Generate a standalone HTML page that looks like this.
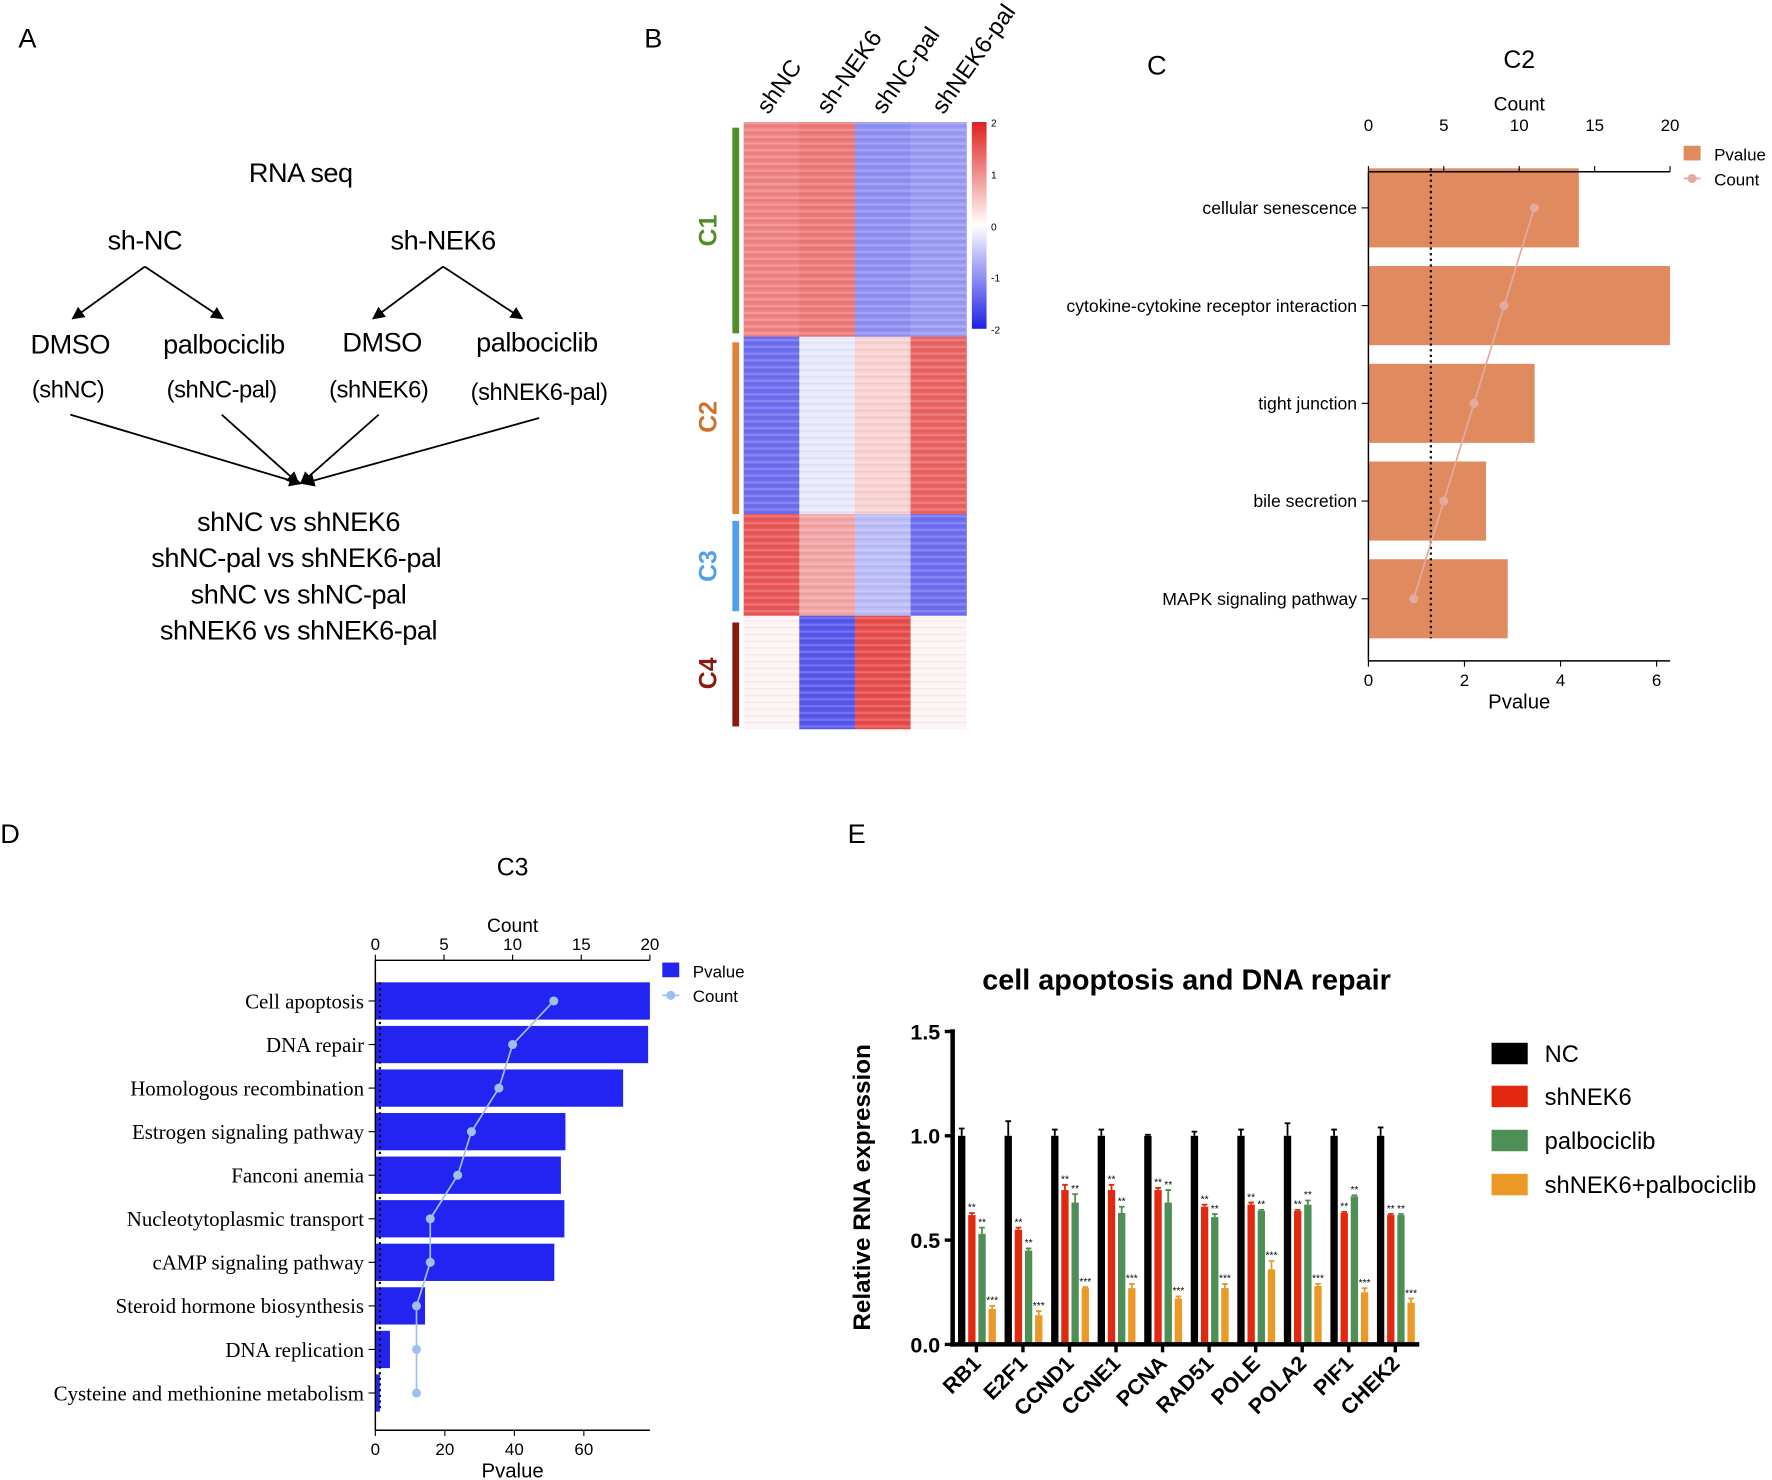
<!DOCTYPE html>
<html><head><meta charset="utf-8"><style>
html,body{margin:0;padding:0;background:#fff;}
svg{display:block;font-family:"Liberation Sans",sans-serif;}
</style></head><body>
<svg id="fig" width="1772" height="1480" viewBox="0 0 1568 1310" xmlns="http://www.w3.org/2000/svg">
<defs>
<marker id="arr" viewBox="0 0 10 10" refX="9" refY="5" markerWidth="7" markerHeight="7" orient="auto"><path d="M0,0 L10,5 L0,10 z" fill="#000"/></marker>
<linearGradient id="cbar" x1="0" y1="0" x2="0" y2="1"><stop offset="0" stop-color="#e02020"/><stop offset="0.5" stop-color="#ffffff"/><stop offset="1" stop-color="#2020e8"/></linearGradient>
<pattern id="stripes" width="197" height="6" patternUnits="userSpaceOnUse"><rect x="0" y="0" width="197" height="2" fill="#fff" opacity="0.18"/><rect x="0" y="3" width="197" height="1" fill="#000" opacity="0.05"/></pattern>
</defs>

<!-- Panel A -->
<g font-size="24" letter-spacing="-0.4">
<text x="16" y="42" font-size="24">A</text>
<text x="266" y="161" text-anchor="middle">RNA seq</text>
<text x="128" y="221" text-anchor="middle">sh-NC</text>
<text x="392" y="221" text-anchor="middle">sh-NEK6</text>
<g stroke="#000" stroke-width="1.6" fill="none">
<line x1="128" y1="236" x2="64" y2="282" marker-end="url(#arr)"/>
<line x1="128" y1="236" x2="197" y2="282" marker-end="url(#arr)"/>
<line x1="392" y1="236" x2="330" y2="282" marker-end="url(#arr)"/>
<line x1="392" y1="236" x2="462" y2="282" marker-end="url(#arr)"/>
<line x1="62" y1="367" x2="266" y2="428" marker-end="url(#arr)"/>
<line x1="196" y1="367" x2="264" y2="428" marker-end="url(#arr)"/>
<line x1="335" y1="367" x2="266" y2="428" marker-end="url(#arr)"/>
<line x1="477" y1="370" x2="268" y2="428" marker-end="url(#arr)"/>
</g>
<text x="62" y="313" text-anchor="middle">DMSO</text>
<text x="198" y="313" text-anchor="middle">palbociclib</text>
<text x="338" y="311" text-anchor="middle">DMSO</text>
<text x="475" y="311" text-anchor="middle">palbociclib</text>
<g font-size="21">
<text x="60" y="352" text-anchor="middle">(shNC)</text>
<text x="196" y="352" text-anchor="middle">(shNC-pal)</text>
<text x="335" y="352" text-anchor="middle">(shNEK6)</text>
<text x="477" y="354" text-anchor="middle">(shNEK6-pal)</text>
</g>
<text x="264" y="470" text-anchor="middle">shNC vs shNEK6</text>
<text x="262" y="502" text-anchor="middle">shNC-pal vs shNEK6-pal</text>
<text x="264" y="534" text-anchor="middle">shNC vs shNC-pal</text>
<text x="264" y="566" text-anchor="middle">shNEK6 vs shNEK6-pal</text>
</g>

<!-- Panel B -->
<g>
<text x="570" y="42" font-size="24">B</text>
<g id="heatmap"></g>
<rect x="658" y="108" width="197" height="537" fill="url(#stripes)"/>
<rect x="860" y="108" width="13" height="183" fill="url(#cbar)"/>
<g font-size="9">
<text x="877" y="112">2</text><text x="877" y="158">1</text><text x="877" y="204">0</text><text x="877" y="249">-1</text><text x="877" y="295">-2</text>
</g>
<g font-size="21">
<text transform="translate(680,102) rotate(-55)">shNC</text>
<text transform="translate(733,102) rotate(-55)">sh-NEK6</text>
<text transform="translate(782,102) rotate(-55)">shNC-pal</text>
<text transform="translate(835,102) rotate(-55)">shNEK6-pal</text>
</g>
<rect x="648" y="113" width="6" height="182" fill="#4e8f2a"/>
<rect x="648" y="303" width="6" height="152" fill="#e0823a"/>
<rect x="648" y="461" width="6" height="80" fill="#4ea0f0"/>
<rect x="648" y="551" width="6" height="92" fill="#8a1a10"/>
<g font-size="22" font-weight="bold">
<text transform="translate(634,204) rotate(-90)" text-anchor="middle" fill="#4e8f2a">C1</text>
<text transform="translate(634,369) rotate(-90)" text-anchor="middle" fill="#d0702a">C2</text>
<text transform="translate(634,501) rotate(-90)" text-anchor="middle" fill="#4ea0f0">C3</text>
<text transform="translate(634,596) rotate(-90)" text-anchor="middle" fill="#8a1a10">C4</text>
</g>
</g>

<text x="1015" y="66" font-size="24">C</text>
<g id="chartC"></g>
<text x="0" y="746" font-size="24">D</text>
<g id="chartD"></g>
<text x="750" y="746" font-size="24">E</text>
<g id="chartE"></g>
</svg>

<script>
// ---- Heatmap (block means per cluster x group, scale -2..2) ----
const hmGroups = ["shNC","sh-NEK6","shNC-pal","shNEK6-pal"];
const hmClusters = ["C1","C2","C3","C4"];
const hmC1 = [1.1, 1.2, -1.0, -0.9];
const hmC2 = [-1.3, -0.2, 0.4, 1.4];
const hmC3 = [1.5, 0.8, -0.6, -1.3];
const hmC4 = [0.1, -1.5, 1.6, 0.1];
const hmRows = [hmC1, hmC2, hmC3, hmC4];
const hmClusterSize = [190, 157, 90, 100];

// ---- Panel C data ----
const cTerms = ["cellular senescence","cytokine-cytokine receptor interaction","tight junction","bile secretion","MAPK signaling pathway"];
const cPvalue = [4.38, 6.28, 3.46, 2.45, 2.9];
const cCount = [11, 9, 7, 5, 3];
const cPTicks = [0, 2, 4, 6];
const cCTicks = [0, 5, 10, 15, 20];

// ---- Panel D data ----
const dTerms = ["Cell apoptosis","DNA repair","Homologous recombination","Estrogen signaling pathway","Fanconi anemia","Nucleotytoplasmic transport","cAMP signaling pathway","Steroid hormone biosynthesis","DNA replication","Cysteine and methionine metabolism"];
const dPvalue = [79, 78.5, 71.3, 54.7, 53.4, 54.4, 51.5, 14.3, 4.2, 1.3];
const dCount = [13, 10, 9, 7, 6, 4, 4, 3, 3, 3];
const dPTicks = [0, 20, 40, 60];
const dCTicks = [0, 5, 10, 15, 20];

// ---- Panel E data ----
const eGenes = ["RB1","E2F1","CCND1","CCNE1","PCNA","RAD51","POLE","POLA2","PIF1","CHEK2"];
const eSeries = ["NC","shNEK6","palbociclib","shNEK6+palbociclib"];
const eNC = [1,1,1,1,1,1,1,1,1,1];
const eNCerr = [0.035,0.07,0.03,0.03,0.005,0.02,0.03,0.06,0.03,0.04];
const eSh = [0.62,0.55,0.74,0.74,0.74,0.66,0.67,0.64,0.63,0.62];
const eShErr = [0.01,0.01,0.025,0.025,0.01,0.01,0.01,0.005,0.005,0.005];
const ePal = [0.53,0.45,0.68,0.63,0.68,0.61,0.64,0.67,0.71,0.62];
const ePalErr = [0.03,0.01,0.04,0.03,0.06,0.015,0.005,0.02,0.005,0.005];
const eCombo = [0.17,0.14,0.27,0.27,0.22,0.27,0.36,0.28,0.25,0.20];
const eComboErr = [0.015,0.02,0.005,0.02,0.01,0.02,0.04,0.01,0.02,0.02];
const eYTicks = [0, 0.5, 1.0, 1.5];
const eStars = ["", "**", "**", "***"];

const NS = "http://www.w3.org/2000/svg";
function mk(parent, tag, attrs, txt) {
  const e = document.createElementNS(NS, tag);
  for (const k in attrs) e.setAttribute(k, attrs[k]);
  if (txt !== undefined) e.textContent = txt;
  parent.appendChild(e);
  return e;
}
function hmColor(v) {
  const t = Math.max(-2, Math.min(2, v)) / 2;
  if (t >= 0) { const g = Math.round(255 - t * 225); return `rgb(${Math.round(255 - t*30)},${g},${g})`; }
  const a = -t; const g = Math.round(255 - a * 225); return `rgb(${g},${g},${Math.round(255 - a*25)})`;
}

// Heatmap
(function(){
  const g = document.getElementById("heatmap");
  const x0 = 658, cw = 49.25; let y = 108;
  hmRows.forEach((row, r) => {
    const h = hmClusterSize[r];
    row.forEach((v, c) => {
      const el = mk(g, "rect", {x: x0 + c*cw, y: y, width: cw + 0.5, height: h + 0.5, fill: hmColor(v)});
      
      
    });
    y += h;
  });
})();

function enrichChart(gid, cfg) {
  const g = document.getElementById(gid);
  const L = cfg.left, R = cfg.right, T = cfg.top, B = cfg.bottom;
  const px = v => L + (v / cfg.pMax) * (R - L);
  const cx = v => L + (v / 20) * (R - L);
  const n = cfg.terms.length;
  const step = (cfg.lastY - cfg.firstY) / (n - 1);
  const yc = i => cfg.firstY + i * step;
  let t = mk(g, "text", {x: (L+R)/2, y: cfg.titleY, "text-anchor": "middle", "font-size": 22}, cfg.title);
   
  cfg.pv.forEach((v, i) => {
    const r = mk(g, "rect", {x: L, y: yc(i) - cfg.barH/2, width: px(v) - L, height: cfg.barH, fill: cfg.barColor});
    
    
    const tk = mk(g, "line", {x1: L-6, x2: L, y1: yc(i), y2: yc(i), stroke: "#000", "stroke-width": 1});
     
    const lb = mk(g, "text", {x: L - 10, y: yc(i) + cfg.fs*0.35, "text-anchor": "end", "font-size": cfg.fs, "font-family": cfg.labelFont}, cfg.terms[i]);
     
  });
  const dl = mk(g, "line", {x1: px(cfg.thresh), x2: px(cfg.thresh), y1: yc(0) - cfg.barH/2, y2: yc(n-1) + cfg.barH/2, stroke: "#111", "stroke-width": 2, "stroke-dasharray": "2,3"});
   
  const pts = cfg.cnt.map((c, i) => cx(c) + "," + yc(i)).join(" ");
  const pl = mk(g, "polyline", {points: pts, fill: "none", stroke: cfg.lineColor, "stroke-width": 1.5});
   
  cfg.cnt.forEach((c, i) => {
    const p = mk(g, "circle", {cx: cx(c), cy: yc(i), r: 4, fill: cfg.lineColor});
     
  });
  let a = mk(g, "line", {x1: L, x2: L, y1: T, y2: B, stroke: "#000", "stroke-width": 1.3});
   
  a = mk(g, "line", {x1: L, x2: R, y1: T, y2: T, stroke: "#000", "stroke-width": 1.3});
   
  a = mk(g, "line", {x1: L, x2: R, y1: B, y2: B, stroke: "#000", "stroke-width": 1.3});
   
  cfg.cTicks.forEach(v => {
    const l = mk(g, "line", {x1: cx(v), x2: cx(v), y1: T, y2: T-5, stroke: "#000"});
     
    const tx = mk(g, "text", {x: cx(v), y: T - cfg.cTickOff, "text-anchor": "middle", "font-size": 15}, v);
     
  });
  cfg.pTicks.forEach(v => {
    const l = mk(g, "line", {x1: px(v), x2: px(v), y1: B, y2: B+5, stroke: "#000"});
     
    const tx = mk(g, "text", {x: px(v), y: B + 22, "text-anchor": "middle", "font-size": 15}, v);
     
  });
  t = mk(g, "text", {x: (L+R)/2, y: T - cfg.cTitleOff, "text-anchor": "middle", "font-size": 17}, "Count");
   
  t = mk(g, "text", {x: (L+R)/2, y: B + 42, "text-anchor": "middle", "font-size": 18}, "Pvalue");
   
  const lx = cfg.legX, ly = cfg.legY;
  let e = mk(g, "rect", {x: lx, y: ly - 7, width: 15, height: 13, fill: cfg.barColor});
   
  e = mk(g, "text", {x: lx + 27, y: ly + 6, "font-size": 15}, "Pvalue");
   
  e = mk(g, "line", {x1: lx, x2: lx + 15, y1: ly + 22, y2: ly + 22, stroke: cfg.lineColor, "stroke-width": 1.5});
   
  e = mk(g, "circle", {cx: lx + 7.5, cy: ly + 22, r: 4, fill: cfg.lineColor});
   
  e = mk(g, "text", {x: lx + 27, y: ly + 28, "font-size": 15}, "Count");
   
}

enrichChart("chartC", {terms: cTerms, pv: cPvalue, cnt: cCount, pTicks: cPTicks, cTicks: cCTicks,
  left: 1211, right: 1478, top: 152, bottom: 585, pMax: 6.28, firstY: 184, lastY: 530, barH: 70,
  barColor: "#e08a60", lineColor: "#e3aaa2", thresh: 1.3, fs: 15.6, labelFont: "Liberation Sans, sans-serif",
  title: "C2", titleY: 60, legX: 1490, legY: 136, cTickOff: 36, cTitleOff: 54});

enrichChart("chartD", {terms: dTerms, pv: dPvalue, cnt: dCount, pTicks: dPTicks, cTicks: dCTicks,
  left: 332, right: 575, top: 850, bottom: 1266, pMax: 79, firstY: 886, lastY: 1233, barH: 33,
  barColor: "#2424f2", lineColor: "#9fc0ee", thresh: 1.3, fs: 18.5, labelFont: "Liberation Serif, serif",
  title: "C3", titleY: 775, legX: 586, legY: 859, cTickOff: 9, cTitleOff: 25});

// Panel E
(function(){
  const g = document.getElementById("chartE");
  const L = 843, R = 1256, B = 1190, T = 913, vMax = 1.5;
  const y = v => B - (v / vMax) * (B - T);
  const gx = i => 851 + i * 41.2;
  const colors = ["#000000", "#e2290f", "#4e8f57", "#eb9a28"];
  const vals = [eNC, eSh, ePal, eCombo];
  const errs = [eNCerr, eShErr, ePalErr, eComboErr];
  const offs = [0, 9, 18, 27];
  const bw = 6.5;
  let t = mk(g, "text", {x: 1050, y: 876, "text-anchor": "middle", "font-size": 25.5, "font-weight": "bold"}, "cell apoptosis and DNA repair");
   
  eGenes.forEach((gn, i) => {
    vals.forEach((arr, s) => {
      const x = gx(i) + offs[s];
      const r = mk(g, "rect", {x: x - bw/2, y: y(arr[i]), width: bw, height: B - y(arr[i]), fill: colors[s]});
      
      
      const top = y(arr[i] + errs[s][i]);
      const eb = mk(g, "path", {d: `M${x},${y(arr[i])} V${top} M${x-2.5},${top} H${x+2.5}`, stroke: colors[s], "stroke-width": 1.6, fill: "none"});
       
      if (eStars[s]) {
        const st = mk(g, "text", {x: x, y: top - 2, "text-anchor": "middle", "font-size": 9}, eStars[s]);
         
      }
    });
    const tx = gx(i) + 13;
    const tk = mk(g, "line", {x1: tx, x2: tx, y1: B, y2: B + 7, stroke: "#000", "stroke-width": 3});
     
    const lb = mk(g, "text", {transform: `translate(${tx+5},${B + 18}) rotate(-45)`, "text-anchor": "end", "font-size": 19, "font-weight": "bold"}, gn);
     
  });
  let a = mk(g, "line", {x1: L, x2: L, y1: T - 2, y2: B + 2, stroke: "#000", "stroke-width": 4});
   
  a = mk(g, "line", {x1: L - 2, x2: R, y1: B, y2: B, stroke: "#000", "stroke-width": 4});
   
  eYTicks.forEach(v => {
    const l = mk(g, "line", {x1: L - 7, x2: L, y1: y(v), y2: y(v), stroke: "#000", "stroke-width": 3});
     
    const tx = mk(g, "text", {x: L - 11, y: y(v) + 7, "text-anchor": "end", "font-size": 19, "font-weight": "bold"}, v.toFixed(1));
     
  });
  t = mk(g, "text", {transform: `translate(770,1051) rotate(-90)`, "text-anchor": "middle", "font-size": 21.5, "font-weight": "bold"}, "Relative RNA expression");
   
  const ly = [932, 970, 1009, 1048];
  eSeries.forEach((s, k) => {
    const r = mk(g, "rect", {x: 1320, y: ly[k] - 9, width: 32, height: 19, fill: colors[k]});
     
    const tx = mk(g, "text", {x: 1367, y: ly[k] + 8, "font-size": 21}, s);
     
  });
})();
</script>
</body></html>
